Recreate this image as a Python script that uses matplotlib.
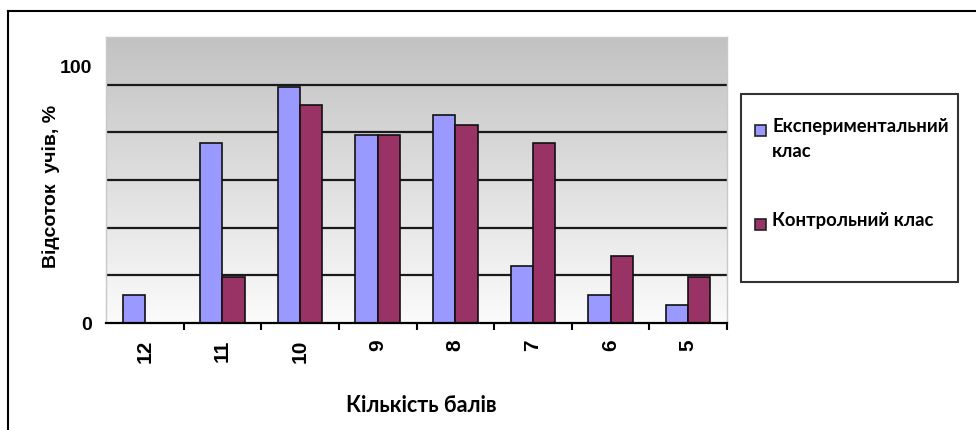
import numpy as np
import matplotlib
matplotlib.use('Agg')
import matplotlib.pyplot as plt
from matplotlib.patches import Rectangle
from matplotlib.lines import Line2D
from matplotlib.colors import LinearSegmentedColormap

# data (per cent of pupils)
scores = ['12', '11', '10', '9', '8', '7', '6', '5']
exp_class = [11, 70, 92, 73, 81, 22, 11, 7]
ctrl_class = [0, 18, 85, 73, 77, 70, 26, 18]
series_names = ['Експериментальний\nклас', 'Контрольний клас']
series_colors = ['#9999ff', '#993366']
y_ticks = [0, 100]

W, H = 976, 430
fig = plt.figure(figsize=(W / 100, H / 100), dpi=100)
fig.patch.set_facecolor('white')

arial = ['Liberation Sans', 'DejaVu Sans']
calibri = ['Lato', 'Open Sans', 'DejaVu Sans']

ax = fig.add_axes([106 / W, 1 - 323 / H, (727 - 106) / W, (323 - 37) / H])

# grey gradient backdrop of the plot area
grad = np.linspace(0, 1, 256).reshape(-1, 1)
bg = LinearSegmentedColormap.from_list('bg', ['#fbfbfb', '#c2c2c2'])
ax.imshow(grad, extent=[0, 1, 0, 1], transform=ax.transAxes, aspect='auto',
          cmap=bg, origin='lower', zorder=0)

ymax = 111.3
x = np.arange(len(scores))
ax.set_xlim(-0.5, len(scores) - 0.5)
ax.set_ylim(0, ymax)

for k in range(1, 6):
    ax.axhline(ymax / 6 * k, color='#1a1a1a', lw=1.6, zorder=1)

w = 0.286
ax.bar(x - w / 2, exp_class, w, color=series_colors[0], edgecolor='#111111', lw=1.2, zorder=2)
ax.bar(x + w / 2, ctrl_class, w, color=series_colors[1], edgecolor='#111111', lw=1.2, zorder=2)

ax.set_xticks(x)
ax.set_xticklabels(scores, rotation=90, fontsize=15, fontweight='bold', family=arial)
ax.set_xticks(np.arange(0.5, len(scores), 1.0), minor=True)
ax.tick_params(axis='x', which='major', length=0, pad=12)
ax.tick_params(axis='x', which='minor', length=5, width=1.5, direction='out', color='black')

ax.set_yticks(y_ticks)
ax.set_yticklabels([str(v) for v in y_ticks], fontsize=14, fontweight='bold', family=arial)
ax.tick_params(axis='y', length=0, pad=10)

ax.spines['bottom'].set_color('black')
ax.spines['bottom'].set_linewidth(1.6)
for s in ['left', 'top', 'right']:
    ax.spines[s].set_color('#c8c8c8')
    ax.spines[s].set_linewidth(1)

fig.text(51 / W, 1 - 186 / H, 'Відсоток  учів, %', rotation=90, ha='center', va='center',
         fontsize=14, fontweight='bold', family=arial)
fig.text(421 / W, 1 - 406 / H, 'Кількість балів', ha='center', va='center',
         fontsize=15.5, fontweight='bold', family=calibri)

# legend box drawn by hand
fig.add_artist(Rectangle((741 / W, 1 - 282 / H), (958 - 741) / W, (282 - 94) / H,
                         transform=fig.transFigure, facecolor='white', edgecolor='#333333', lw=1.5))
for name, col, yc in zip(series_names, series_colors, [130, 224]):
    fig.add_artist(Rectangle((755 / W, 1 - (yc + 5.5) / H), 11 / W, 11 / H,
                             transform=fig.transFigure, facecolor=col, edgecolor='#222222', lw=1.2))
    fig.text(772 / W, 1 - (yc - 12) / H, name, ha='left', va='top', fontsize=13.3,
             fontweight='bold', family=calibri, linespacing=1.55)

# outer frame
fig.add_artist(Line2D([8 / W, 1], [1 - 11 / H, 1 - 11 / H], transform=fig.transFigure, color='black', lw=1.5))
fig.add_artist(Line2D([8 / W, 8 / W], [1 - 11 / H, 0], transform=fig.transFigure, color='black', lw=1.5))

fig.savefig('out.png', dpi=100)
